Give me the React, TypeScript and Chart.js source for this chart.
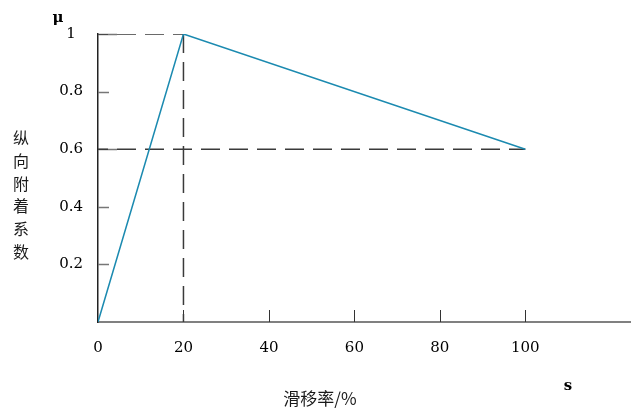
import React, { useEffect, useRef } from 'react';
import { Chart, registerables } from 'chart.js';

Chart.register(...registerables);

// main membership line: slip rate (%) -> adhesion coefficient
const slipRate = [0, 20, 100];
const adhesion = [0, 1, 0.6];
// dashed guides
const guideTopX = [0, 20];
const guideTopY = [1, 1];
const guideVertX = [20, 20];
const guideVertY = [1, 0];
const guideEndX = [0, 100];
const guideEndY = [0.6, 0.6];
// ticks
const xTicks = [0, 20, 40, 60, 80, 100];
const yTicks = [0.2, 0.4, 0.6, 0.8, 1];
const yTitleChars = ['纵', '向', '附', '着', '系', '数'];
const xTitle = '滑移率/%';

const toPts = (xs: number[], ys: number[]) => xs.map((x, i) => ({ x, y: ys[i] }));

const dashed = (xs: number[], ys: number[], offset: number) => ({
  data: toPts(xs, ys),
  showLine: true,
  borderColor: '#3a3a3a',
  borderWidth: 1.5,
  borderDash: [19, 9],
  borderDashOffset: offset,
  pointRadius: 0,
  order: 1,
});

export default function App() {
  const ref = useRef<HTMLCanvasElement | null>(null);

  useEffect(() => {
    if (!ref.current) return;
    const decor = {
      id: 'decor',
      beforeDatasetsDraw(chart: any) {
        const { ctx, scales } = chart;
        const xs = scales.x, ys = scales.y;
        const x0 = xs.getPixelForValue(0);
        const y0 = ys.getPixelForValue(0);
        ctx.save();
        // y ticks inward
        ctx.strokeStyle = '#777';
        ctx.lineWidth = 1.5;
        yTicks.forEach((v) => {
          const py = Math.round(ys.getPixelForValue(v)) + 0.5;
          const len = v === 1 || Math.abs(v - 0.6) < 1e-6 ? 19 : 11;
          ctx.beginPath();
          ctx.moveTo(x0, py);
          ctx.lineTo(x0 + len, py);
          ctx.stroke();
        });
        // x ticks inward
        ctx.strokeStyle = '#333';
        ctx.lineWidth = 1;
        xTicks.forEach((v) => {
          if (v === 0) return;
          const px = Math.round(xs.getPixelForValue(v)) + 0.5;
          ctx.beginPath();
          ctx.moveTo(px, y0);
          ctx.lineTo(px, y0 - 12);
          ctx.stroke();
        });
        ctx.restore();
      },
      afterDraw(chart: any) {
        const { ctx, chartArea } = chart;
        ctx.save();
        ctx.fillStyle = '#000';
        ctx.textAlign = 'center';
        ctx.textBaseline = 'middle';
        ctx.font = 'bold 15px "DejaVu Serif"';
        ctx.fillText('μ', chartArea.left - 40, chartArea.top - 16);
        ctx.fillText('s', 568, chartArea.bottom + 64);
        ctx.fillStyle = '#1a1a1a';
        ctx.font = '16px "Noto Sans CJK SC"';
        yTitleChars.forEach((c, i) => {
          ctx.fillText(c, 21, 138 + i * 22.8);
        });
        ctx.font = '17px "Noto Sans CJK SC"';
        ctx.fillText(xTitle, 320, chartArea.bottom + 77);
        ctx.restore();
      },
    };

    const chart = new Chart(ref.current, {
      type: 'scatter',
      data: {
        datasets: [
          {
            data: toPts(slipRate, adhesion),
            showLine: true,
            borderColor: '#1b8ab0',
            borderWidth: 1.5,
            pointRadius: 0,
            tension: 0,
            order: 0,
          },
          dashed(guideTopX, guideTopY, 9),
          dashed(guideVertX, guideVertY, 0),
          dashed(guideEndX, guideEndY, 9),
        ],
      },
      options: {
        animation: false,
        responsive: false,
        maintainAspectRatio: false,
        layout: { padding: { left: 38, top: 34, right: 2, bottom: 0 } },
        plugins: { legend: { display: false }, tooltip: { enabled: false } },
        scales: {
          x: {
            type: 'linear',
            min: 0,
            max: 124.5,
            afterBuildTicks: (s: any) => {
              s.ticks = xTicks.map((v) => ({ value: v }));
            },
            afterFit: (s: any) => {
              s.height = 96;
            },
            grid: { display: true, drawOnChartArea: false, drawTicks: false },
            border: { display: true, color: '#808080', width: 2 },
            ticks: {
              padding: 17,
              color: '#000',
              font: { family: 'DejaVu Serif', size: 15 },
              maxRotation: 0,
              callback: (v: any) => String(v),
            },
          },
          y: {
            type: 'linear',
            min: 0,
            max: 1,
            afterBuildTicks: (s: any) => {
              s.ticks = yTicks.map((v) => ({ value: v }));
            },
            afterFit: (s: any) => {
              s.width = 60;
            },
            grid: { display: true, drawOnChartArea: false, drawTicks: false },
            border: { display: true, color: '#222', width: 1.5 },
            ticks: {
              padding: 15,
              crossAlign: 'center',
              color: '#000',
              font: { family: 'DejaVu Serif', size: 15 },
              callback: (v: any) => (v === 1 ? '1' : Number(v).toFixed(1)),
            },
          },
        },
      },
      plugins: [decor],
    });
    return () => chart.destroy();
  }, []);

  return (
    <div style={{ position: 'fixed', left: 0, top: 0, width: 632, height: 418, background: '#fff' }}>
      <canvas ref={ref} width={632} height={418} style={{ width: 632, height: 418 }} />
    </div>
  );
}
